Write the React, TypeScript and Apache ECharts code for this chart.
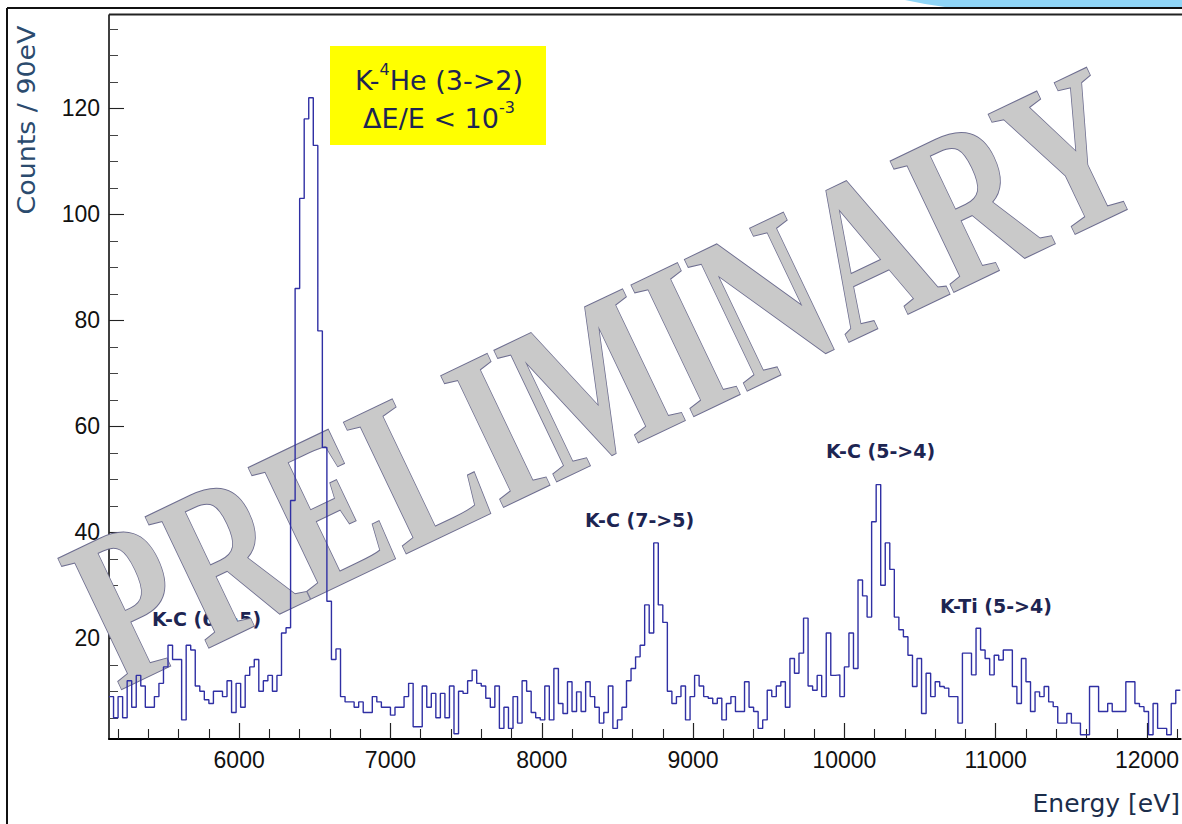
import React, { useEffect, useRef } from "react";
import * as echarts from "echarts";

// Histogram binning (eV)
const binStart = 5140;
const binWidth = 30;

// Counts per bin, left to right
const counts = [
  9, 5, 9, 5, 12, 7, 13, 11, 7, 7,
  9, 11.5, 14.6, 18.7, 16, 16, 4.6, 18.7, 17.8, 11,
  10, 8.4, 7.7, 10, 10, 9, 12, 6, 11.5, 7,
  13, 14.6, 16, 10, 12, 13, 10, 13, 21, 22,
  46, 86, 103, 118, 122, 113, 78, 56, 27, 16,
  18, 9, 8, 8, 7, 8, 6, 6, 9, 8,
  7, 7, 5.5, 7, 7, 9, 11.5, 3.3, 3.3, 11,
  7, 9.6, 5, 9.6, 5, 11, 2, 10, 9.6, 12,
  14, 11.5, 11, 8.7, 7, 11, 3, 7, 3, 9,
  4, 12, 10, 6, 5, 4.6, 11, 4.6, 14.3, 7.7,
  5.8, 11.8, 6.2, 9.9, 6.2, 11.8, 9, 7, 4, 6,
  11, 3, 4.6, 7, 12, 14.3, 16.5, 18.7, 26.3, 21,
  38, 26.3, 23, 10, 7.7, 9, 11, 4.6, 9, 13,
  11, 9, 8.7, 7.7, 8.7, 4.6, 7.7, 9, 6.2, 6.2,
  11.8, 7, 6.2, 3, 4.6, 10.2, 9, 11, 11.8, 7,
  16.2, 13.4, 17.2, 23.8, 11, 10.2, 13, 9, 21, 13,
  13.1, 9, 14.6, 21, 14.3, 31, 28, 24, 42, 49,
  30, 38, 33, 24, 21.6, 20.3, 16.8, 10.9, 16.2, 5.8,
  13.4, 9, 11.8, 10.9, 10.6, 9, 9, 4, 17.2, 17.2,
  13.1, 21.9, 17.8, 16.2, 13.1, 16.8, 15.9, 17.8, 17.8, 10.9,
  7.7, 16.2, 11.8, 6.2, 9.9, 9, 10.9, 8, 7.1, 4,
  4, 5.8, 4, 4, 1.8, 1.8, 10.9, 10.9, 6.2, 6.2,
  7.7, 6.2, 6.2, 6.2, 11.8, 11.8, 7.7, 7.1, 6.2, 1.8,
  7.7, 3, 3, 1.8, 7.7, 10.2,
];

// Axis ticks
const xTickLabels = [6000, 7000, 8000, 9000, 10000, 11000, 12000];
const xMinorTicks = [
  5200, 5400, 5600, 5800, 6200, 6400, 6600, 6800, 7200, 7400, 7600, 7800,
  8200, 8400, 8600, 8800, 9200, 9400, 9600, 9800, 10200, 10400, 10600, 10800,
  11200, 11400, 11600, 11800, 12200,
];
const yTickLabels = [20, 40, 60, 80, 100, 120];
const yMinorTicks = [
  5, 10, 15, 25, 30, 35, 45, 50, 55, 65, 70, 75, 85, 90, 95, 105, 110, 115,
  125, 130, 135,
];

// Line annotations
const peakLabels = ["K-C (6->5)", "K-C (7->5)", "K-C (5->4)", "K-Ti (5->4)"];

const NAVY = "#1d2552";

function buildOption() {
  // step outline: each bin's left edge carries its count, closed at the last right edge
  const steps: [number, number][] = counts.map((c, i) => [binStart + i * binWidth, c]);
  steps.push([binStart + counts.length * binWidth, counts[counts.length - 1]]);

  const labelPos = [
    { x: 152, y: 619 },
    { x: 585, y: 520 },
    { x: 826, y: 451 },
    { x: 940, y: 606 },
  ];

  return {
    animation: false,
    backgroundColor: "#ffffff",
    grid: { left: 109, right: 0, top: 15, bottom: 85 },
    xAxis: [
      {
        type: "value",
        min: 5140,
        max: 12222,
        position: "bottom",
        axisLine: { show: true, lineStyle: { color: "#000", width: 2 } },
        axisTick: {
          show: true,
          inside: true,
          length: 16,
          customValues: xTickLabels,
          lineStyle: { color: "#222", width: 1.2 },
        },
        axisLabel: {
          show: true,
          customValues: xTickLabels,
          formatter: (v: number) => String(v),
          fontSize: 23,
          fontFamily: "Liberation Sans",
          color: "#111",
          margin: 9,
        },
        splitLine: { show: false },
      },
      {
        type: "value",
        min: 5140,
        max: 12222,
        position: "bottom",
        axisLine: { show: false },
        axisTick: {
          show: true,
          inside: true,
          length: 10,
          customValues: xMinorTicks,
          lineStyle: { color: "#222", width: 1.1 },
        },
        axisLabel: { show: false },
        splitLine: { show: false },
      },
    ],
    yAxis: [
      {
        type: "value",
        min: 1,
        max: 137.6,
        position: "left",
        axisLine: { show: true, lineStyle: { color: "#000", width: 1.5 } },
        axisTick: {
          show: true,
          inside: true,
          length: 15,
          customValues: yTickLabels,
          lineStyle: { color: "#222", width: 1.1 },
        },
        axisLabel: {
          show: true,
          customValues: yTickLabels,
          formatter: (v: number) => String(v),
          fontSize: 23,
          fontFamily: "Liberation Sans",
          color: "#111",
          margin: 9,
        },
        splitLine: { show: false },
      },
      {
        type: "value",
        min: 1,
        max: 137.6,
        position: "left",
        axisLine: { show: false },
        axisTick: {
          show: true,
          inside: true,
          length: 9,
          customValues: yMinorTicks,
          lineStyle: { color: "#444", width: 1 },
        },
        axisLabel: { show: false },
        splitLine: { show: false },
      },
    ],
    series: [
      {
        type: "line",
        xAxisIndex: 0,
        yAxisIndex: 0,
        data: steps,
        step: "end",
        symbol: "none",
        z: 60,
        lineStyle: { color: "#3030a4", width: 1.4 },
      },
    ],
    graphic: [
      // slide frame and the corner swoosh
      {
        type: "polygon",
        z: 1,
        shape: { points: [[905, 0], [1182, 0], [1182, 7], [945, 7], [925, 4]] },
        style: { fill: "#8fd5f7" },
      },
      { type: "line", z: 2, shape: { x1: 7, y1: 8, x2: 1182, y2: 8 }, style: { stroke: "#111", lineWidth: 2 } },
      { type: "line", z: 2, shape: { x1: 7, y1: 8, x2: 7, y2: 824 }, style: { stroke: "#111", lineWidth: 2 } },
      { type: "line", z: 2, shape: { x1: 109, y1: 14.5, x2: 1182, y2: 14.5 }, style: { stroke: "#222", lineWidth: 2 } },
      // axis titles
      {
        type: "text",
        x: 27,
        y: 120,
        rotation: Math.PI / 2,
        scaleX: 1.12,
        z: 5,
        style: {
          text: "Counts / 90eV",
          fontSize: 24,
          fontFamily: "DejaVu Sans",
          fill: "#2b4b6e",
          align: "center",
          verticalAlign: "middle",
        },
      },
      {
        type: "text",
        x: 1180,
        y: 803,
        z: 5,
        style: {
          text: "Energy [eV]",
          fontSize: 25,
          fontFamily: "DejaVu Sans",
          fill: "#1b2d4b",
          align: "right",
          verticalAlign: "middle",
        },
      },
      // highlighted box
      {
        type: "rect",
        z: 5,
        shape: { x: 330, y: 46, width: 216, height: 99 },
        style: { fill: "#ffff00" },
      },
      {
        type: "text",
        x: 439,
        y: 99,
        z: 6,
        style: {
          text: "{a|K-}{s|4}{a|He (3->2)}\n{a|ΔE/E < 10}{s|-3}",
          align: "center",
          verticalAlign: "middle",
          rich: {
            a: { fontSize: 27, fontFamily: "DejaVu Sans", fill: NAVY, lineHeight: 38 },
            s: { fontSize: 16, fontFamily: "DejaVu Sans", fill: NAVY, lineHeight: 38, verticalAlign: "top" },
          },
        },
      },
      // transition labels
      ...peakLabels.map((t, i) => ({
        type: "text",
        x: labelPos[i].x,
        y: labelPos[i].y,
        z: 6,
        style: {
          text: t,
          fontSize: 19,
          fontWeight: "bold",
          fontFamily: "DejaVu Sans",
          fill: NAVY,
          align: "left",
          verticalAlign: "middle",
        },
      })),
      // watermark
      {
        type: "text",
        x: 603,
        y: 377,
        rotation: (25.5 * Math.PI) / 180,
        scaleY: 1.4,
        z: 50,
        style: {
          text: "PRELIMINARY",
          fontSize: 158,
          fontWeight: "bold",
          fontFamily: "Liberation Serif",
          fill: "#c9c9c9",
          stroke: "#6e6e90",
          lineWidth: 1.5,
          align: "center",
          verticalAlign: "middle",
        },
      },
    ],
  };
}

export default function App() {
  const ref = useRef<HTMLDivElement>(null);
  useEffect(() => {
    if (!ref.current) return;
    const chart = echarts.init(ref.current, null, { renderer: "svg" });
    chart.setOption(buildOption() as any);
    return () => chart.dispose();
  }, []);
  return (
    <div
      ref={ref}
      style={{ position: "fixed", left: 0, top: 0, width: 1182, height: 824, background: "#fff" }}
    />
  );
}
